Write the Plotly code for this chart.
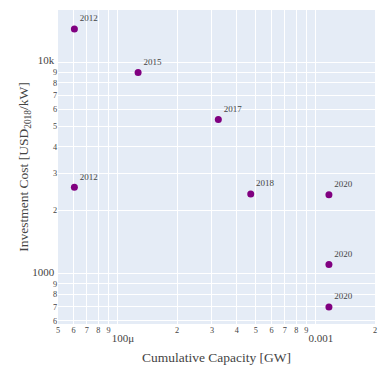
import plotly.graph_objects as go
import numpy as np

# Cumulative installed capacity (GW) and investment cost (USD2018/kW)
years = ["2012", "2015", "2017", "2012", "2018", "2020", "2020", "2020"]
capacity_gw = [6.05e-5, 1.27e-4, 3.23e-4, 6.05e-5, 4.71e-4, 1.17e-3, 1.17e-3, 1.17e-3]
cost_usd_per_kw = [14400, 8970, 5370, 2570, 2390, 2370, 1107, 698]

fig = go.Figure(
    go.Scatter(
        x=capacity_gw,
        y=cost_usd_per_kw,
        mode="markers+text",
        text=years,
        textposition="top right",
        textfont=dict(size=9, color="#444"),
        marker=dict(color="purple", size=7),
        showlegend=False,
    )
)

fig.update_layout(
    width=390,
    height=367,
    margin=dict(l=58, r=15, t=10, b=43),
    font=dict(family="Liberation Serif", size=11, color="#444"),
    template="plotly",
)
fig.update_xaxes(
    type="log",
    dtick="D1",
    automargin=False,
    range=[np.log10(5e-5), np.log10(2e-3)],
    title=dict(text="Cumulative Capacity [GW]", font=dict(size=13.5), standoff=10),
)
fig.update_yaxes(
    type="log",
    dtick="D1",
    automargin=False,
    range=[np.log10(580), np.log10(17700)],
    title=dict(text="Investment Cost [USD<sub>2018</sub>/kW]", font=dict(size=13.5), standoff=0),
)

fig.write_html("out.html")
